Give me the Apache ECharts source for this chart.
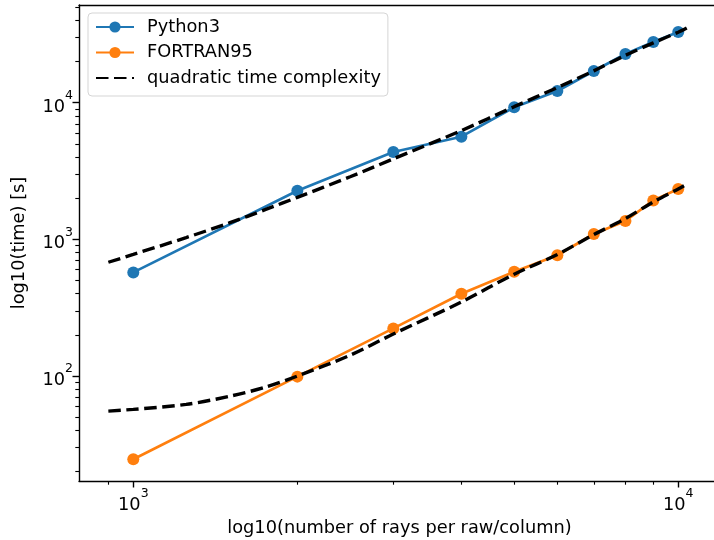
<!DOCTYPE html>
<html>
<head>
<meta charset="utf-8">
<script src="https://cdn.jsdelivr.net/npm/echarts@6/dist/echarts.min.js"></script>
<style>
  html, body { margin: 0; padding: 0; background: #fff; overflow: hidden; }
  #chart { width: 714px; height: 540px; }
</style>
</head>
<body>
<div id="chart"></div>
<script>
// Number of rays per row/column for each benchmark run
const rays = [1000, 2000, 3000, 4000, 5000, 6000, 7000, 8000, 9000, 10000];
// Measured run times [s]
const python3 = [573, 2270, 4355, 5640, 9255, 12180, 17060, 22700, 27800, 32900];
const fortran95 = [24.6, 99, 223, 400, 580, 765, 1095, 1363, 1928, 2333];

// Quadratic time complexity reference curves
const fitRays = [900, 1000, 1250, 1500, 1750, 2000, 2500, 3000, 4000, 5000, 6000, 7000, 8000, 9000, 10000, 10460];
const fitPython3 = [680, 776, 1030, 1318, 1655, 2030, 2870, 3880, 6250, 9350, 12900, 17100, 22200, 27400, 32800, 35900];
const fitFortran95 = [55.4, 57, 62, 71, 83, 100, 142, 203, 348, 556, 775, 1085, 1420, 1880, 2340, 2590];

// Axis ranges and log-scale tick positions
const xRange = [795, 11930];
const yRange = [17.06, 51850];
const xMajor = [1000, 10000];
const xMinor = [900, 2000, 3000, 4000, 5000, 6000, 7000, 8000, 9000];
const yMajor = [100, 1000, 10000];
const yMinor = [20, 30, 40, 50, 60, 70, 80, 90, 200, 300, 400, 500, 600, 700, 800, 900,
                2000, 3000, 4000, 5000, 6000, 7000, 8000, 9000, 20000, 30000, 40000, 50000];

// Both axes are logarithmic: values are plotted in decades
const lg = Math.log10;
const pairs = (xs, ys) => xs.map((x, i) => [lg(x), lg(ys[i])]);

const FONT = 'DejaVu Sans';
const FS = 17.8;
const BLUE = '#1f77b4';
const ORANGE = '#ff7f0e';

// "10^k" tick labels with a raised exponent
const powLabel = v => '{b|10}{s|' + Math.round(v) + '}';
const powRich = () => ({
  b: { fontFamily: FONT, fontSize: FS, color: '#000', padding: [9, 0, 0, 0] },
  s: { fontFamily: FONT, fontSize: 12.5, color: '#000', verticalAlign: 'top' }
});

function makeAxis(range, position, extra) {
  return Object.assign({
    type: 'value', position: position, min: lg(range[0]), max: lg(range[1]),
    splitLine: { show: false },
    axisLine: { show: false, onZero: false },
    axisTick: { show: false },
    axisLabel: { show: false }
  }, extra);
}
const spine = () => ({ show: true, onZero: false, lineStyle: { color: '#000', width: 1.4 } });

const chart = echarts.init(document.getElementById('chart'));
chart.setOption({
  animation: false,
  backgroundColor: '#fff',
  grid: { left: 79, top: 5, right: -6, bottom: 59, outerBoundsMode: 'none' },
  xAxis: [
    // major ticks + labels
    makeAxis(xRange, 'bottom', {
      axisLine: spine(),
      axisTick: { show: true, length: 6.5, lineStyle: { color: '#000', width: 1.4 }, customValues: xMajor.map(lg) },
      axisLabel: { show: true, margin: 6, customValues: xMajor.map(lg), formatter: powLabel, rich: powRich() },
      name: 'log10(number of rays per raw/column)', nameLocation: 'middle', nameGap: 36,
      nameTextStyle: { fontFamily: FONT, fontSize: FS, color: '#000' }
    }),
    // minor ticks
    makeAxis(xRange, 'bottom', {
      axisTick: { show: true, length: 3.7, lineStyle: { color: '#000', width: 1.1 }, customValues: xMinor.map(lg) }
    }),
    // top frame line
    makeAxis(xRange, 'top', { axisLine: spine() })
  ],
  yAxis: [
    makeAxis(yRange, 'left', {
      axisLine: spine(),
      axisTick: { show: true, length: 6.5, lineStyle: { color: '#000', width: 1.4 }, customValues: yMajor.map(lg) },
      axisLabel: { show: true, margin: 6, customValues: yMajor.map(lg), formatter: powLabel, rich: powRich() },
      name: 'log10(time) [s]', nameLocation: 'middle', nameGap: 51, nameRotate: 90,
      nameTextStyle: { fontFamily: FONT, fontSize: FS, color: '#000' }
    }),
    makeAxis(yRange, 'left', {
      axisTick: { show: true, length: 3.7, lineStyle: { color: '#000', width: 1.1 }, customValues: yMinor.map(lg) }
    })
  ],
  legend: {
    left: 88, top: 13, orient: 'vertical',
    data: [
      { name: 'Python3' },
      { name: 'FORTRAN95' },
      { name: 'quadratic time complexity', itemStyle: { opacity: 0 } }
    ],
    itemWidth: 38, itemHeight: 14, itemGap: 7.5,
    padding: [5, 7, 9, 7],
    backgroundColor: 'rgba(255,255,255,0.8)',
    borderColor: '#d5d5d5', borderWidth: 1, borderRadius: 4,
    textStyle: { fontFamily: FONT, fontSize: FS, color: '#000', padding: [0, 0, 0, 8] }
  },
  // keep the open right side of the frame clean
  graphic: [{
    type: 'rect', left: 707, top: 7, z: 100, silent: true,
    shape: { width: 7, height: 472 },
    style: { fill: '#fff' }
  }],
  series: [
    { name: 'Python3', type: 'line', data: pairs(rays, python3), symbol: 'circle', symbolSize: 12,
      color: BLUE, lineStyle: { color: BLUE, width: 2.67 }, itemStyle: { color: BLUE } },
    { name: 'FORTRAN95', type: 'line', data: pairs(rays, fortran95), symbol: 'circle', symbolSize: 12,
      color: ORANGE, lineStyle: { color: ORANGE, width: 2.67 }, itemStyle: { color: ORANGE } },
    { name: 'quadratic time complexity', type: 'line', data: pairs(fitRays, fitPython3), symbol: 'none', smooth: 0.3, z: 5,
      color: '#000', lineStyle: { color: '#000', width: 3.4, type: [12.5, 5.5] }, itemStyle: { color: '#000' } },
    { name: 'quadratic time complexity', type: 'line', data: pairs(fitRays, fitFortran95), symbol: 'none', smooth: 0.3, z: 5,
      color: '#000', lineStyle: { color: '#000', width: 3.4, type: [12.5, 5.5] }, itemStyle: { color: '#000' } }
  ]
});
</script>
</body>
</html>
